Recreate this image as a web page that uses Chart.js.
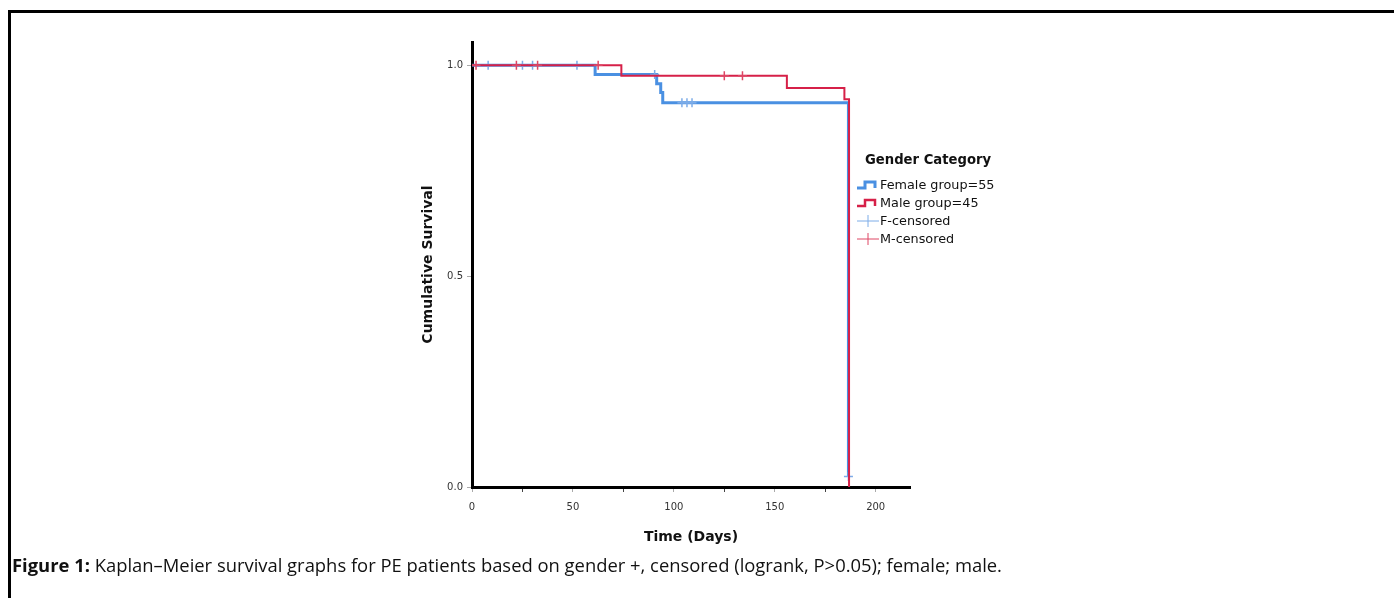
<!DOCTYPE html>
<html>
<head>
<meta charset="utf-8">
<script src="https://cdn.jsdelivr.net/npm/chart.js@4.4.1/dist/chart.umd.min.js"></script>
<style>
    body { margin: 0; width: 1394px; height: 598px; background: #fff; overflow: hidden; position: relative; }
    #frame { position: absolute; left: 8px; top: 10px; width: 1400px; height: 600px; border-left: 3px solid #000; border-top: 3px solid #000; }
    #wrap { position: absolute; left: 0; top: 0; width: 1394px; height: 598px; }
    #legend { position: absolute; left: 857px; top: 152px; font-family: "DejaVu Sans", sans-serif; font-size: 12.8px; color: #111; }
    #legend .title { font-weight: bold; font-size: 13.2px; margin-left: 8px; margin-bottom: 9px; }
    #legend .item { height: 18px; line-height: 18px; display: flex; align-items: center; }
    #legend svg { width: 22px; height: 14px; margin-right: 1px; }
    #caption { position: absolute; left: 12px; top: 552px; font-family: "Open Sans", sans-serif; font-size: 18.4px; color: #111; white-space: nowrap; }
</style>
</head>
<body>
<div id="frame"></div>
<div id="wrap"><canvas id="kmChart" width="1394" height="598"></canvas></div>
<div id="legend"></div>
<div id="caption"><b>Figure 1:</b> Kaplan–Meier survival graphs for PE patients based on gender +, censored (logrank, P&gt;0.05); female; male.</div>
<script>
// survival steps (time in days, cumulative survival)
const femaleTimes = [0, 61, 91.5, 93.5, 94.5, 186.5];
const femaleSurvival = [1.0, 0.978, 0.956, 0.935, 0.911, 0.025];
const femaleCensorTimes = [8, 25, 30, 52, 90.5, 104, 106.5, 109, 186.5];
const femaleCensorSurvival = [1.0, 1.0, 1.0, 1.0, 0.978, 0.911, 0.911, 0.911, 0.025];

const maleTimes = [0, 74, 156, 184.5, 186.8];
const maleSurvival = [1.0, 0.975, 0.946, 0.919, 0];
const maleCensorTimes = [2, 22, 32.5, 62.5, 125, 134];
const maleCensorSurvival = [1.0, 1.0, 1.0, 1.0, 0.975, 0.975];

const xTickValues = [0, 25, 50, 75, 100, 125, 150, 175, 200];
const yTickValues = [0, 0.5, 1.0];

const legendItems = ['Female group=55', 'Male group=45', 'F-censored', 'M-censored'];

const blue = 'rgb(74,144,226)';
const blueLight = 'rgb(125,172,232)';
const red = 'rgb(214,32,72)';
const redLight = 'rgb(222,70,100)';

function toPoints(xs, ys) {
    return xs.map(function (x, i) { return { x: x, y: ys[i] }; });
}

// legend (html, glyphs drawn with svg)
const stepIcon = function (color, width) {
    return `<svg viewBox="0 0 22 14"><polyline points="0,10 8,10 8,4 18,4 18,10" fill="none" stroke="${color}" stroke-width="${width}"/></svg>`;
};
const crossIcon = function (color) {
    return `<svg viewBox="0 0 22 14"><line x1="0" y1="7" x2="22" y2="7" stroke="${color}" stroke-width="1"/><line x1="11" y1="1" x2="11" y2="13" stroke="${color}" stroke-width="1"/></svg>`;
};
const icons = [stepIcon(blue, 3), stepIcon(red, 2.5), crossIcon(blueLight), crossIcon(redLight)];
const $legend = document.querySelector('#legend');
$legend.innerHTML = `<div class="title">Gender Category</div>`;
legendItems.forEach(function (label, i) {
    $legend.innerHTML += `<div class="item">${icons[i]}<span>${label}</span></div>`;
});

const tickFont = { family: 'DejaVu Sans', size: 10 };
const titleFont = { family: 'DejaVu Sans', size: 14, weight: 'bold' };

new Chart(document.getElementById('kmChart'), {
    type: 'scatter',
    data: {
        datasets: [
            {
                label: 'M-censored',
                data: toPoints(maleCensorTimes, maleCensorSurvival),
                pointStyle: 'cross', pointRadius: 4.5, borderColor: redLight, borderWidth: 1.5,
                showLine: false, order: 0
            },
            {
                label: 'Male group=45',
                data: toPoints(maleTimes, maleSurvival),
                showLine: true, stepped: 'before', borderColor: red, borderWidth: 2,
                pointRadius: 0, order: 1
            },
            {
                label: 'F-censored',
                data: toPoints(femaleCensorTimes, femaleCensorSurvival),
                pointStyle: 'cross', pointRadius: 4.5, borderColor: blueLight, borderWidth: 1.5,
                showLine: false, order: 2
            },
            {
                label: 'Female group=55',
                data: toPoints(femaleTimes, femaleSurvival),
                showLine: true, stepped: 'before', borderColor: blue, borderWidth: 3,
                pointRadius: 0, order: 3
            }
        ]
    },
    options: {
        responsive: false,
        animation: false,
        devicePixelRatio: 1,
        layout: { padding: { left: 412, top: 42, right: 484, bottom: 48 } },
        plugins: { legend: { display: false }, tooltip: { enabled: false } },
        scales: {
            x: {
                type: 'linear', min: 0, max: 217,
                afterFit: function (scale) { scale.height = 63; },
                afterBuildTicks: function (scale) { scale.ticks = xTickValues.map(function (v) { return { value: v }; }); },
                ticks: {
                    font: tickFont, color: '#333', padding: 9, maxRotation: 0, autoSkip: false,
                    callback: function (v) { return v % 50 === 0 ? v : ''; }
                },
                grid: {
                    drawOnChartArea: false, tickLength: 5,
                    color: function (ctx) { return ctx.tick && ctx.tick.value % 50 ? '#444' : '#aaa'; }
                },
                border: { display: true, color: '#000', width: 3 },
                title: { display: true, text: 'Time (Days)', font: titleFont, color: '#111', padding: { top: 0, bottom: 4 } }
            },
            y: {
                type: 'linear', min: 0, max: 1.055,
                afterFit: function (scale) { scale.width = 60; },
                afterBuildTicks: function (scale) { scale.ticks = yTickValues.map(function (v) { return { value: v }; }); },
                ticks: {
                    font: tickFont, color: '#333', padding: 4,
                    callback: function (v) { return v.toFixed(1); }
                },
                grid: { drawOnChartArea: false, tickLength: 5, color: '#aaa' },
                border: { display: true, color: '#000', width: 3 },
                title: { display: true, text: 'Cumulative Survival', font: titleFont, color: '#111', padding: { top: 8, bottom: 0 } }
            }
        }
    }
});
</script>
</body>
</html>
